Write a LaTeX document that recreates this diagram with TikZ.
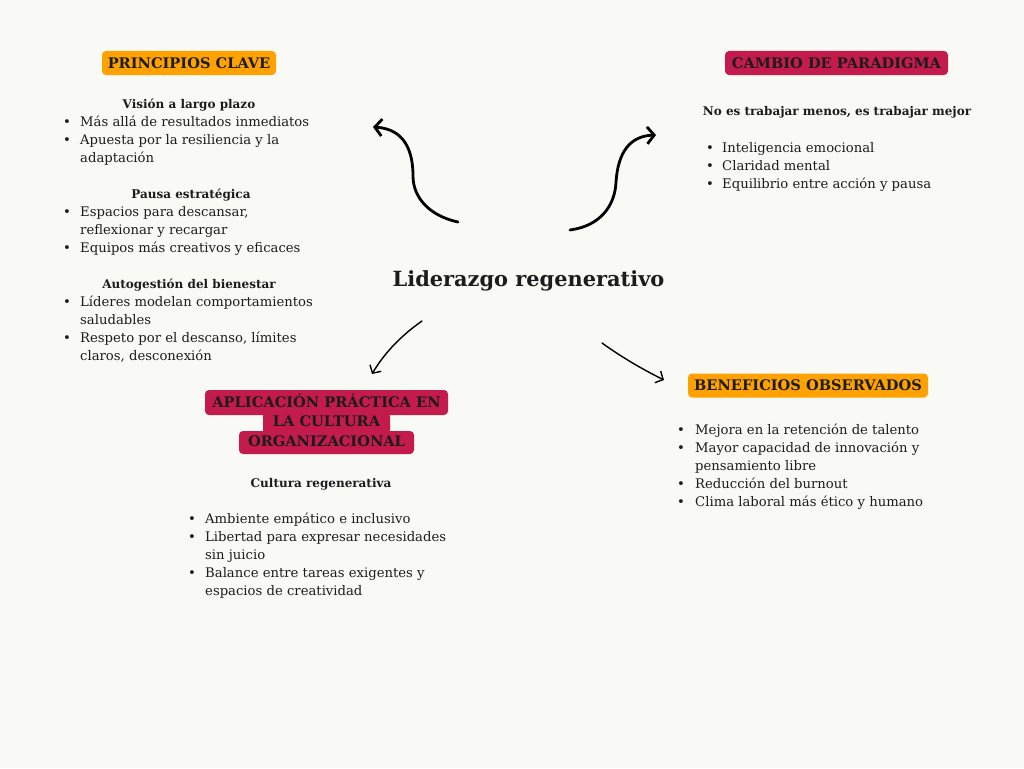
\documentclass[tikz,border=0pt]{standalone}
\usepackage{fontspec}
\setmainfont{DejaVu Serif}
\usetikzlibrary{arrows.meta}
\definecolor{bg}{HTML}{F9F9F6}
\definecolor{orng}{HTML}{FFA200}
\definecolor{crim}{HTML}{C21B4C}
\definecolor{ink}{HTML}{1C1C1C}
\begin{document}
\begin{tikzpicture}[x=1pt,y=-1pt,
  body/.style={font=\fontsize{13.2}{18}\selectfont, text=ink, inner sep=0pt, anchor=base west, align=left},
  bul/.style={font=\fontsize{13.2}{18}\selectfont, text=ink, inner sep=0pt, anchor=base},
  sub/.style={font=\bfseries\fontsize{12}{18}\selectfont, text=ink, inner sep=0pt, anchor=base},
  hdr/.style={rounded corners=4pt, minimum height=24pt, inner sep=0pt, text height=10.5pt, text depth=0pt,
    font=\bfseries\fontsize{14.6}{16}\selectfont, text=ink},
  hl/.style={fill=crim, rounded corners=4pt, inner sep=0pt},
  thick arrow/.style={line width=2.8pt, line cap=round, -{Straight Barb[length=7pt,width=17pt,line width=2.8pt]}},
  thin arrow/.style={line width=1.4pt, line cap=round, -{Straight Barb[length=6pt,width=13pt,line width=1.4pt]}}
]
\fill[bg] (0,0) rectangle (1024,768);
\useasboundingbox (0,0) rectangle (1024,768);

% central title
\node[font=\bfseries\fontsize{20.9}{24}\selectfont, text=ink, inner sep=0pt, anchor=base] (title) at (528.5,286) {Liderazgo regenerativo};

% ---------- PRINCIPIOS CLAVE ----------
\node[hdr, fill=orng, minimum width=174pt] (hPrin) at (189,63) {PRINCIPIOS CLAVE};
\node[sub] (sVision) at (189,108) {Visión a largo plazo};
\node[bul] (b1) at (67,126) {•};
\node[body] (t1) at (80,126) {Más allá de resultados inmediatos};
\node[bul] (b2) at (67,144) {•};
\node[body] (t2) at (80,162) {Apuesta por la resiliencia y la\\adaptación};
\node[sub] (sPausa) at (191,198) {Pausa estratégica};
\node[bul] (b3) at (67,216) {•};
\node[body] (t3) at (80,234) {Espacios para descansar,\\reflexionar y recargar};
\node[bul] (b4) at (67,252) {•};
\node[body] (t4) at (80,252) {Equipos más creativos y eficaces};
\node[sub] (sAuto) at (189,288) {Autogestión del bienestar};
\node[bul] (b5) at (67,306) {•};
\node[body] (t5) at (80,324) {Líderes modelan comportamientos\\saludables};
\node[bul] (b6) at (67,342) {•};
\node[body] (t6) at (80,360) {Respeto por el descanso, límites\\claros, desconexión};

% ---------- CAMBIO DE PARADIGMA ----------
\node[hdr, fill=crim, minimum width=223pt] (hCambio) at (836.5,63) {CAMBIO DE PARADIGMA};
\node[sub] (sNo) at (837,115) {No es trabajar menos, es trabajar mejor};
\node[bul] (c1) at (710,152) {•};
\node[body] (ct1) at (722,152) {Inteligencia emocional};
\node[bul] (c2) at (710,170) {•};
\node[body] (ct2) at (722,170) {Claridad mental};
\node[bul] (c3) at (710,188) {•};
\node[body] (ct3) at (722,188) {Equilibrio entre acción y pausa};

% ---------- APLICACIÓN PRÁCTICA ----------
\node[hl, minimum width=243pt, minimum height=25pt] (hA1) at (326.5,402.5) {};
\node[hl, minimum width=127pt, minimum height=22pt] (hA2) at (326.5,423) {};
\node[hl, minimum width=175pt, minimum height=23pt] (hA3) at (326.5,442.5) {};
\node[font=\bfseries\fontsize{14.6}{19.5}\selectfont, text=ink, inner sep=0pt, anchor=base, align=center] (hApl) at (326.5,446)
  {APLICACIÓN PRÁCTICA EN\\LA CULTURA\\ORGANIZACIONAL};
\node[sub] (sCult) at (321,487) {Cultura regenerativa};
\node[bul] (a1) at (192,523) {•};
\node[body] (at1) at (205,523) {Ambiente empático e inclusivo};
\node[bul] (a2) at (192,541) {•};
\node[body] (at2) at (205,559) {Libertad para expresar necesidades\\sin juicio};
\node[bul] (a3) at (192,577) {•};
\node[body] (at3) at (205,595) {Balance entre tareas exigentes y\\espacios de creatividad};

% ---------- BENEFICIOS OBSERVADOS ----------
\node[hdr, fill=orng, minimum width=240pt] (hBen) at (808,385.5) {BENEFICIOS OBSERVADOS};
\node[bul] (e1) at (681,434) {•};
\node[body] (et1) at (695,434) {Mejora en la retención de talento};
\node[bul] (e2) at (681,452) {•};
\node[body] (et2) at (695,470) {Mayor capacidad de innovación y\\pensamiento libre};
\node[bul] (e3) at (681,488) {•};
\node[body] (et3) at (695,488) {Reducción del burnout};
\node[bul] (e4) at (681,506) {•};
\node[body] (et4) at (695,506) {Clima laboral más ético y humano};

% ---------- arrows ----------
\coordinate (ulS) at (458,222);
\coordinate (ulE) at (373,127);
\coordinate (urS) at (570,230);
\coordinate (urE) at (656,135);
\coordinate (llS) at (422,321);
\coordinate (llE) at (372,374);
\coordinate (lrS) at (602,343);
\coordinate (lrE) at (664,380);

\draw[thick arrow] (ulS) .. controls (430,216) and (413,198) .. (413,176) .. controls (413,150) and (404,129) .. (ulE);
\draw[thick arrow] (urS) .. controls (600,226) and (615,206) .. (616,182) .. controls (618,152) and (630,136) .. (urE);
\draw[thin arrow] (llS) .. controls (402,335) and (385,352) .. (llE);
\draw[thin arrow] (lrS) .. controls (620,356) and (640,368) .. (lrE);
\end{tikzpicture}
\end{document}
